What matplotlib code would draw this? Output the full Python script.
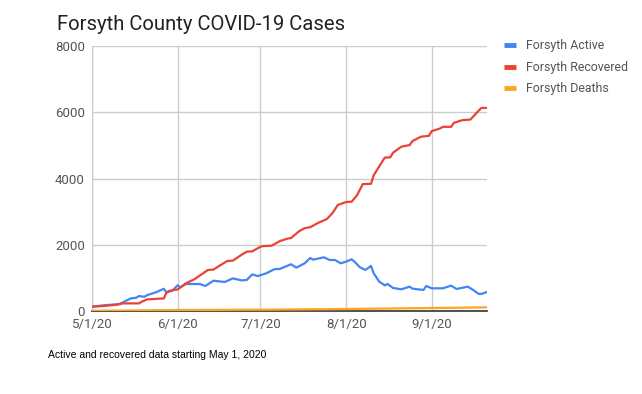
import matplotlib
matplotlib.use("Agg")
import matplotlib.pyplot as plt
import matplotlib.dates as mdates
import pandas as pd

plt.rcParams['font.family'] = ['Roboto', 'DejaVu Sans']

start = pd.Timestamp("2020-05-01")

recovered_days = [0, 4, 9, 11, 17, 18, 20, 26, 27, 28, 31, 34, 37, 42, 44, 46, 49, 51, 54, 56,
                  58, 61, 62, 65, 68, 71, 72, 75, 77, 79, 82, 85, 87, 89, 92, 94, 96, 98, 101,
                  102, 105, 106, 108, 109, 112, 115, 116, 119, 122, 123, 126, 127, 130, 131,
                  134, 137, 140, 141, 143]
recovered_vals = [130, 150, 190, 230, 230, 280, 350, 380, 560, 610, 650, 835, 955, 1240, 1250,
                  1360, 1510, 1520, 1690, 1790, 1800, 1940, 1960, 1970, 2110, 2190, 2200, 2410,
                  2500, 2530, 2665, 2775, 2950, 3200, 3290, 3300, 3500, 3830, 3840, 4100, 4500,
                  4630, 4640, 4780, 4960, 5010, 5130, 5260, 5290, 5430, 5510, 5560, 5560, 5680,
                  5760, 5780, 6050, 6130, 6130]

active_days = [0, 4, 10, 14, 16, 17, 19, 20, 23, 26, 27, 29, 31, 32, 34, 37, 39, 41, 44, 48,
               51, 54, 56, 58, 60, 63, 66, 68, 72, 74, 77, 79, 80, 84, 86, 88, 90, 92, 94, 95,
               97, 99, 101, 102, 104, 106, 107, 109, 112, 115, 116, 120, 121, 123, 127, 130,
               132, 136, 138, 140, 141, 143]
active_vals = [130, 170, 210, 380, 400, 450, 430, 480, 560, 670, 560, 610, 775, 715, 815, 815,
               815, 755, 915, 875, 985, 925, 935, 1105, 1055, 1135, 1260, 1270, 1410, 1310,
               1440, 1600, 1550, 1620, 1540, 1540, 1440, 1490, 1560, 1490, 1320, 1240, 1360,
               1135, 885, 775, 815, 695, 655, 735, 675, 635, 755, 685, 685, 765, 665, 735,
               635, 515, 515, 575]

deaths_days = [0, 31, 61, 92, 123, 143]
deaths_vals = [5, 30, 40, 60, 90, 110]

series_names = ["Forsyth Active", "Forsyth Recovered", "Forsyth Deaths"]
colors = ["#4285F4", "#EA4335", "#F9A825"]

tick_dates = ["2020-05-01", "2020-06-01", "2020-07-01", "2020-08-01", "2020-09-01"]
tick_labels = ["5/1/20", "6/1/20", "7/1/20", "8/1/20", "9/1/20"]
y_ticks = [0, 2000, 4000, 6000, 8000]

def to_dates(days):
    return [start + pd.Timedelta(days=d) for d in days]

fig = plt.figure(figsize=(6.42, 3.94), dpi=100)
ax = fig.add_axes([92/642, 1-311/394, (487-92)/642, (311-46)/394])

ax.plot(to_dates(active_days), active_vals, color=colors[0], lw=1.6, label=series_names[0], zorder=3)
ax.plot(to_dates(recovered_days), recovered_vals, color=colors[1], lw=1.6, label=series_names[1], zorder=3)
ax.plot(to_dates(deaths_days), deaths_vals, color=colors[2], lw=1.6, label=series_names[2], zorder=3)

ax.set_xlim(start, start + pd.Timedelta(days=143))
ax.set_ylim(0, 8000)
ax.set_yticks(y_ticks)
ax.set_yticklabels([str(v) for v in y_ticks])
ax.set_xticks(pd.to_datetime(tick_dates))
ax.set_xticklabels(tick_labels)

ax.grid(True, color="#cccccc", lw=1)
ax.set_axisbelow(True)
for s in ["top", "right", "left"]:
    ax.spines[s].set_visible(False)
ax.spines["bottom"].set_color("#333333")
ax.spines["bottom"].set_linewidth(1.2)
ax.tick_params(length=0, colors="#555555", labelsize=9.5)
ax.tick_params(axis="x", pad=5)
ax.tick_params(axis="y", pad=5)
ax.axvline(start, color="#cccccc", lw=1, zorder=0)

leg = fig.legend(loc="upper left", bbox_to_anchor=(504/642, 1-39.5/394), frameon=False,
                 fontsize=8.9, handlelength=1.0, handletextpad=0.75, labelspacing=0.68,
                 borderaxespad=0, borderpad=0)
for h in leg.get_lines():
    h.set_linewidth(3.5)
    h.set_solid_capstyle("butt")
for t in leg.get_texts():
    t.set_color("#555555")

fig.text(57/642, 1-24/394, "Forsyth County COVID-19 Cases", fontsize=14.6, color="#222222",
         va="center", ha="left")
fig.text(48/642, 1-355/394, "Active and recovered data starting May 1, 2020", fontsize=7.5,
         color="black", va="center", ha="left", family=["Liberation Sans"])

fig.savefig("out.png", dpi=100, facecolor="white")
